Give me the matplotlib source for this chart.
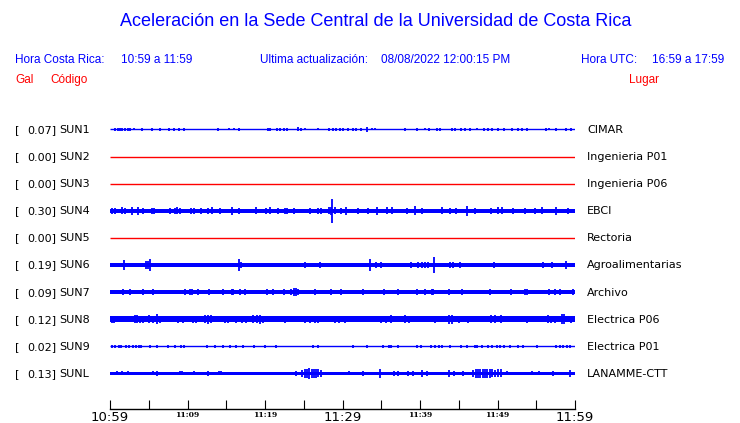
import numpy as np
import matplotlib
matplotlib.use("Agg")
import matplotlib.pyplot as plt

# ---------------- data ----------------
title = "Aceleración en la Sede Central de la Universidad de Costa Rica"
codes = ["SUN1", "SUN2", "SUN3", "SUN4", "SUN5", "SUN6", "SUN7", "SUN8", "SUN9", "SUNL"]
places = ["CIMAR", "Ingenieria P01", "Ingenieria P06", "EBCI", "Rectoria",
          "Agroalimentarias", "Archivo", "Electrica P06", "Electrica P01", "LANAMME-CTT"]
peak_gal = [0.07, 0.00, 0.00, 0.30, 0.00, 0.19, 0.09, 0.12, 0.02, 0.13]
active = [True, False, False, True, False, True, True, True, True, True]
# background noise half-amplitude (gal)
base_gal = [0.008, 0.0, 0.0, 0.055, 0.0, 0.042, 0.04, 0.068, 0.006, 0.04]

# bursts: minutes after 10:59 and half-amplitude (gal)
ev_t = {
    "SUN1": [0.65, 1.0, 1.3, 1.6, 1.94, 2.3, 2.58, 3.14, 4.09, 5.38, 6.45, 7.66, 8.26, 8.9, 9.6,
             13.98, 15.35, 16.0, 16.69, 20.34, 20.65, 21.5, 21.9, 22.4, 22.9, 24.2, 24.7, 25.1,
             26.9, 28.2, 28.8, 29.2, 29.7, 30.1, 30.7, 31.3, 31.8, 32.4, 33.2, 33.8, 34.2, 35.4,
             36.0, 38.1, 39.6, 40.6, 41.1, 42.2, 42.6, 44.1, 44.5, 45.3, 45.8, 46.5, 47.3, 48.2,
             48.8, 49.3, 50.1, 50.8, 51.9, 52.7, 53.2, 53.8, 56.2, 56.6, 57.6, 58.9, 59.5],
    "SUN4": [0.2, 0.65, 1.5, 1.9, 2.8, 3.6, 4.3, 5.4, 5.7, 7.7, 8.4, 8.7, 9.0, 10.5, 10.9,
             11.8, 12.7, 13.1, 14.2, 15.8, 16.6, 18.9, 20.1, 20.6, 21.7, 22.6, 22.9, 23.7, 25.8,
             26.9, 27.2, 28.3, 28.5, 28.7, 29.0, 29.8, 30.4, 32.0, 33.3, 34.5, 35.7, 36.4, 38.3,
             39.4, 40.2, 42.8, 43.9, 44.6, 46.0, 47.1, 49.2, 50.1, 50.6, 52.0, 53.6, 54.8, 55.8,
             57.6, 59.1],
    "SUN6": [0.2, 0.9, 1.85, 3.4, 4.6, 4.9, 5.2, 6.2, 7.5, 9.0, 11.0, 13.3, 15.3, 16.6, 16.9,
             18.5, 23.9, 25.2, 27.1, 29.7, 31.8, 33.5, 34.3, 35.0, 38.9, 39.8, 40.2, 40.6, 41.0,
             41.8, 43.9, 44.2, 45.2, 46.7, 49.5, 52.6, 54.8, 55.9, 57.0, 58.9, 59.6],
    "SUN7": [1.7, 2.6, 4.3, 5.5, 9.7, 10.3, 10.6, 11.4, 12.8, 14.6, 15.7, 15.9, 16.8, 17.4,
             20.2, 21.0, 22.4, 23.4, 23.7, 24.0, 24.2, 26.5, 28.5, 29.8, 32.7, 35.3, 37.2, 39.6,
             40.7, 41.5, 41.7, 43.7, 45.4, 49.0, 51.7, 53.5, 53.8, 56.6, 57.4, 58.1, 59.8],
    "SUN8": [0.2, 0.5, 3.2, 3.5, 3.9, 4.2, 5.0, 5.6, 6.1, 6.4, 8.8, 9.4, 10.7, 11.1, 12.3,
             12.7, 13.0, 14.8, 15.2, 16.2, 17.0, 17.5, 18.5, 19.0, 19.4, 19.8, 22.6, 25.2, 25.8,
             26.4, 26.9, 29.0, 29.6, 30.3, 35.0, 35.6, 36.2, 38.1, 38.6, 41.9, 43.7, 44.1, 45.0,
             46.2, 49.2, 49.7, 50.4, 53.8, 56.5, 56.9, 57.4, 58.3, 58.6, 59.5],
    "SUN9": [0.2, 0.6, 1.1, 1.4, 2.1, 2.5, 3.0, 3.4, 3.8, 4.0, 5.2, 6.0, 7.5, 8.4, 9.2, 9.5,
             12.5, 13.5, 14.6, 15.5, 16.2, 17.2, 18.6, 20.0, 21.4, 26.2, 26.9, 31.3, 33.2, 35.2,
             36.0, 36.2, 37.2, 39.6, 40.1, 41.4, 41.9, 42.4, 42.8, 43.9, 45.3, 46.0, 47.1, 47.4,
             48.0, 48.8, 49.3, 49.9, 50.3, 50.9, 51.6, 52.7, 53.3, 55.1, 57.6, 58.0, 58.5, 59.0,
             59.4],
    "SUNL": [0.86, 1.6, 2.3, 4.5, 5.6, 6.1, 9.0, 9.3, 10.8, 12.3, 12.7, 14.0, 14.3, 16.6,
             18.3, 20.4, 22.2, 24.0, 24.8, 25.1, 25.4, 25.7, 26.0, 26.3, 26.6, 26.9, 27.2, 30.8,
             32.7, 34.8, 36.6, 37.2, 38.5, 39.1, 40.2, 40.9, 43.7, 44.4, 45.5, 46.9, 47.2, 47.5,
             47.8, 48.1, 48.4, 48.7, 49.0, 49.3, 49.7, 50.1, 50.4, 51.2, 52.9, 54.5, 55.3, 57.1,
             59.4],
}
ev_a = {
    "SUN1": [0.035, 0.035, 0.035, 0.03, 0.035, 0.03, 0.03, 0.025, 0.03, 0.03, 0.035, 0.03, 0.03,
             0.03, 0.03, 0.035, 0.025, 0.025, 0.03, 0.035, 0.035, 0.035, 0.035, 0.03, 0.03, 0.05,
             0.03, 0.025, 0.025, 0.035, 0.04, 0.035, 0.035, 0.03, 0.035, 0.03, 0.03, 0.035, 0.07,
             0.025, 0.025, 0.02, 0.02, 0.03, 0.045, 0.025, 0.03, 0.035, 0.035, 0.04, 0.035, 0.035,
             0.03, 0.035, 0.025, 0.035, 0.03, 0.035, 0.035, 0.035, 0.045, 0.03, 0.03, 0.03, 0.03,
             0.025, 0.03, 0.03, 0.035],
    "SUN4": [0.08, 0.07, 0.09, 0.08, 0.1, 0.1, 0.07, 0.075, 0.075, 0.075, 0.08, 0.09, 0.08,
             0.075, 0.08, 0.075, 0.07, 0.085, 0.07, 0.1, 0.08, 0.09, 0.075, 0.09, 0.07, 0.075,
             0.075, 0.075, 0.07, 0.08, 0.08, 0.09, 0.1, 0.30, 0.09, 0.08, 0.1, 0.07, 0.075, 0.1,
             0.09, 0.09, 0.07, 0.11, 0.07, 0.085, 0.075, 0.07, 0.125, 0.07, 0.07, 0.09, 0.09,
             0.07, 0.07, 0.07, 0.085, 0.1, 0.07],
    "SUN6": [0.06, 0.06, 0.12, 0.06, 0.09, 0.1, 0.14, 0.06, 0.06, 0.06, 0.06, 0.06, 0.06, 0.15,
             0.07, 0.06, 0.06, 0.08, 0.07, 0.06, 0.06, 0.15, 0.07, 0.07, 0.07, 0.07, 0.08, 0.08,
             0.07, 0.19, 0.07, 0.07, 0.07, 0.06, 0.08, 0.06, 0.06, 0.07, 0.07, 0.11, 0.06],
    "SUN7": [0.065, 0.065, 0.065, 0.065, 0.065, 0.085, 0.08, 0.065, 0.065, 0.065, 0.08, 0.08,
             0.065, 0.065, 0.065, 0.08, 0.065, 0.08, 0.09, 0.09, 0.08, 0.065, 0.065, 0.065, 0.065,
             0.065, 0.065, 0.08, 0.07, 0.085, 0.08, 0.08, 0.065, 0.065, 0.065, 0.08, 0.07, 0.07,
             0.07, 0.07, 0.07],
    "SUN8": [0.09, 0.09, 0.1, 0.1, 0.09, 0.09, 0.1, 0.09, 0.12, 0.09, 0.09, 0.09, 0.09, 0.09,
             0.1, 0.11, 0.1, 0.09, 0.09, 0.09, 0.09, 0.09, 0.1, 0.1, 0.11, 0.09, 0.09, 0.09,
             0.09, 0.09, 0.09, 0.09, 0.09, 0.09, 0.09, 0.09, 0.1, 0.1, 0.09, 0.09, 0.11, 0.11,
             0.09, 0.09, 0.1, 0.1, 0.1, 0.09, 0.1, 0.09, 0.09, 0.12, 0.12, 0.09],
    "SUN9": [0.035] * 59,
    "SUNL": [0.05, 0.05, 0.05, 0.045, 0.05, 0.06, 0.05, 0.05, 0.05, 0.045, 0.07, 0.05, 0.05,
             0.045, 0.045, 0.045, 0.045, 0.06, 0.08, 0.11, 0.12, 0.13, 0.12, 0.11, 0.12, 0.1,
             0.08, 0.05, 0.07, 0.12, 0.07, 0.07, 0.07, 0.07, 0.08, 0.07, 0.08, 0.07, 0.07, 0.09,
             0.11, 0.12, 0.12, 0.11, 0.12, 0.12, 0.11, 0.1, 0.08, 0.1, 0.1, 0.05, 0.045, 0.05,
             0.05, 0.07, 0.09],
}
tick_minutes = list(range(0, 61, 5))
tick_labels = ["10:59", "", "11:09", "", "11:19", "", "11:29", "", "11:39", "", "11:49", "", "11:59"]
big_ticks = ["10:59", "11:29", "11:59"]

# ---------------- figure ----------------
W, H = 740, 423
fig = plt.figure(figsize=(W / 100, H / 100), dpi=100)
BLUE = "#0000ff"
RED = "#ff0000"
HF = ["Liberation Sans", "DejaVu Sans"]

def px(x, y):
    return x / W, 1 - y / H

fig.text(*px(376, 22), title, color=BLUE, fontsize=13, family=HF, ha="center", va="center")
fig.text(*px(15, 60), "Hora Costa Rica:", color=BLUE, fontsize=8.5, family=HF, va="center")
fig.text(*px(121, 60), "10:59 a 11:59", color=BLUE, fontsize=8.5, family=HF, va="center")
fig.text(*px(260, 60), "Ultima actualización:", color=BLUE, fontsize=8.5, family=HF, va="center")
fig.text(*px(381, 60), "08/08/2022 12:00:15 PM", color=BLUE, fontsize=8.5, family=HF, va="center")
fig.text(*px(581, 60), "Hora UTC:", color=BLUE, fontsize=8.5, family=HF, va="center")
fig.text(*px(724, 60), "16:59 a 17:59", color=BLUE, fontsize=8.5, family=HF, va="center", ha="right")
fig.text(*px(15, 80), "Gal", color=RED, fontsize=8.5, family=HF, va="center")
fig.text(*px(50, 80), "Código", color=RED, fontsize=8.5, family=HF, va="center")
fig.text(*px(629, 80), "Lugar", color=RED, fontsize=8.5, family=HF, va="center")

# trace axes: 40 px per gal, rows 27.1 px apart
PX_PER_GAL = 40.0
x0, x1 = 110, 575
ytop, ybot = 115, 409
ax = fig.add_axes([x0 / W, 1 - ybot / H, (x1 - x0) / W, (ybot - ytop) / H])
spacing = 27.1 / PX_PER_GAL
top_margin = (129.5 - ytop) / PX_PER_GAL
ax.set_xlim(0, 60)
ax.set_ylim(top_margin - (ybot - ytop) / PX_PER_GAL, top_margin)
for s in ["top", "left", "right"]:
    ax.spines[s].set_visible(False)
ax.spines["bottom"].set_linewidth(1.0)
ax.set_yticks([])
ax.set_xticks(tick_minutes)
ax.set_xticklabels(tick_labels)
ax.tick_params(axis="x", direction="in", length=6.2, width=0.8, pad=1.5)
for lab in ax.get_xticklabels():
    if lab.get_text() in big_ticks:
        lab.set_fontsize(9.5)
        lab.set_family("DejaVu Sans")
    else:
        lab.set_fontsize(5.5)
        lab.set_family("DejaVu Serif")
        lab.set_fontweight("bold")

for i, code in enumerate(codes):
    off = -i * spacing
    ypix = 130 + 27.1 * i
    fig.text(*px(15, ypix), "[", fontsize=8, family="DejaVu Sans", va="center")
    fig.text(*px(56, ypix), f"{peak_gal[i]:.2f}]", fontsize=8, family="DejaVu Sans", va="center", ha="right")
    fig.text(*px(59, ypix), code, fontsize=8, family="DejaVu Sans", va="center")
    fig.text(*px(587, ypix), places[i], fontsize=8, family="DejaVu Sans", va="center")
    if not active[i]:
        ax.plot([0, 60], [off, off], color=RED, lw=1.0, solid_capstyle="butt")
        continue
    b = base_gal[i]
    ax.plot([0, 60], [off, off], color=BLUE, lw=1.0, solid_capstyle="butt")
    if b > 0.02:
        ax.fill_between([0, 60], off - b, off + b, color=BLUE, lw=0)
    t = np.array(ev_t[code])
    a = np.array(ev_a[code])
    ax.vlines(t, off - a, off + a, color=BLUE, lw=1.3)

fig.savefig("out.png", dpi=100)
